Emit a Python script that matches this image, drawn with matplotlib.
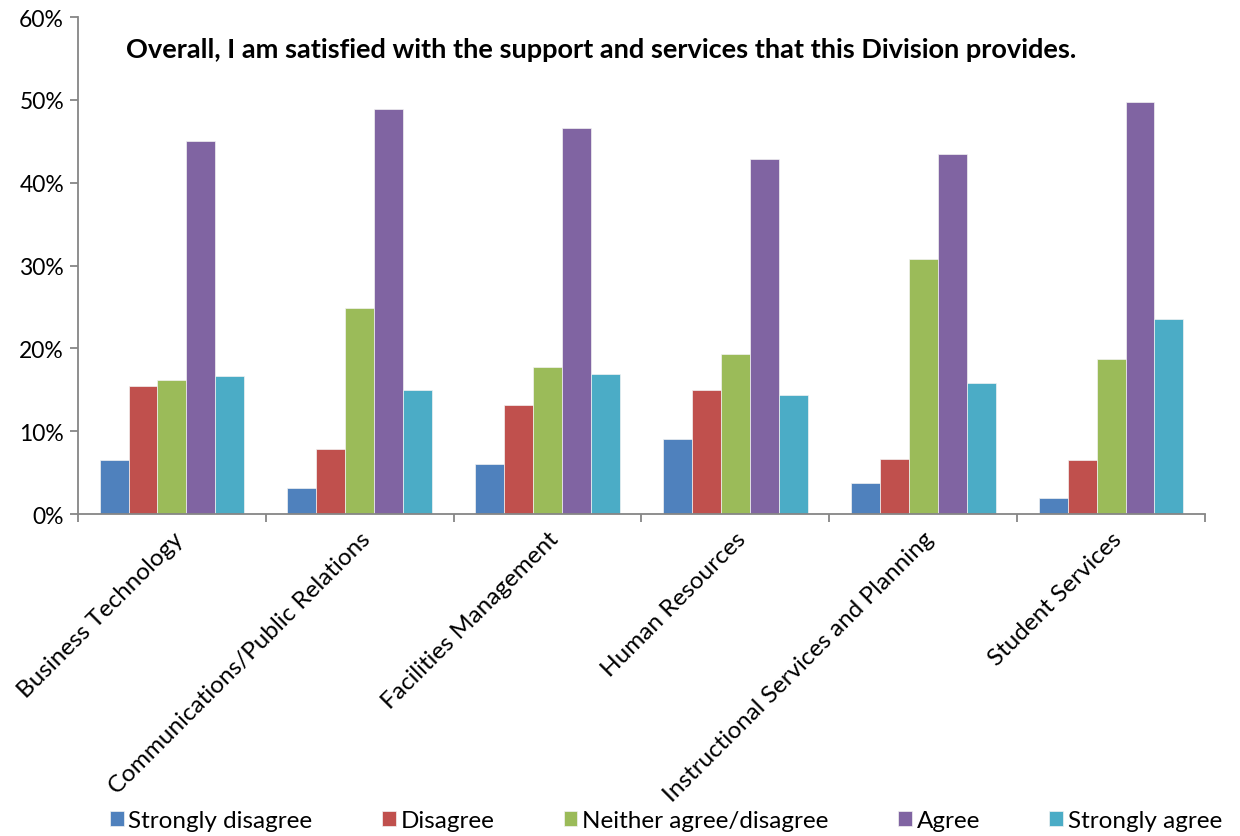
import numpy as np
import matplotlib
matplotlib.use("Agg")
import matplotlib.pyplot as plt
from matplotlib.ticker import FixedLocator, PercentFormatter

plt.rcParams['font.family'] = ['Lato', 'DejaVu Sans']

categories = ["Business Technology", "Communications/Public Relations",
              "Facilities Management", "Human Resources",
              "Instructional Services and Planning", "Student Services"]
series_names = ["Strongly disagree", "Disagree", "Neither agree/disagree",
                "Agree", "Strongly agree"]
strongly_disagree = [6.5, 3.1, 6.0, 9.0, 3.7, 1.9]
disagree = [15.4, 7.8, 13.1, 15.0, 6.6, 6.5]
neither = [16.2, 24.9, 17.8, 19.3, 30.8, 18.7]
agree = [45.0, 48.9, 46.6, 42.8, 43.5, 49.7]
strongly_agree = [16.6, 15.0, 16.9, 14.4, 15.8, 23.6]
title = "Overall, I am satisfied with the support and services that this Division provides."

series = [strongly_disagree, disagree, neither, agree, strongly_agree]
colors = ["#4F81BD", "#C0504D", "#9BBB59", "#8064A2", "#4BACC6"]

fig = plt.figure(figsize=(12.4, 8.37), dpi=100)
ax = fig.add_axes([78/1240, 1 - 515/837, (1205-78)/1240, (515-18)/837])

x = np.arange(len(categories))
w = 0.154
for i, (vals, c, name) in enumerate(zip(series, colors, series_names)):
    ax.bar(x + (i - 2) * w, vals, width=w, color=c, edgecolor="#F2F2F2",
           linewidth=0.5, label=name, zorder=2)

ax.set_xlim(-0.5, len(categories) - 0.5)
ax.set_ylim(0, 60)
ax.yaxis.set_major_locator(FixedLocator(np.arange(0, 61, 10)))
ax.yaxis.set_major_formatter(PercentFormatter(decimals=0))

axis_color = "#868686"
for s in ["top", "right"]:
    ax.spines[s].set_visible(False)
for s in ["left", "bottom"]:
    ax.spines[s].set_color(axis_color)
    ax.spines[s].set_linewidth(1.3)

ax.tick_params(axis="y", length=6, width=1.3, color=axis_color,
               labelsize=16.5, pad=4, labelcolor="black")
ax.set_xticks(x)
ax.set_xticklabels(categories, rotation=45, ha="right", rotation_mode="anchor",
                   fontsize=17.5)
ax.tick_params(axis="x", which="major", length=0, pad=10)
ax.set_xticks(np.arange(-0.5, len(categories)), minor=True)
ax.tick_params(axis="x", which="minor", length=6, width=1.3, color=axis_color)

fig.text(601/1240, 1 - 50/837, title, ha="center", va="center",
         fontsize=19.5, fontweight="bold")

fig.legend(loc="center", bbox_to_anchor=(666/1240, 1 - 822/837), ncol=5,
           frameon=False, fontsize=17.5, handlelength=0.57, handleheight=0.57,
           handletextpad=0.2, columnspacing=2.85, borderpad=0)

fig.savefig("out.png", dpi=100)
